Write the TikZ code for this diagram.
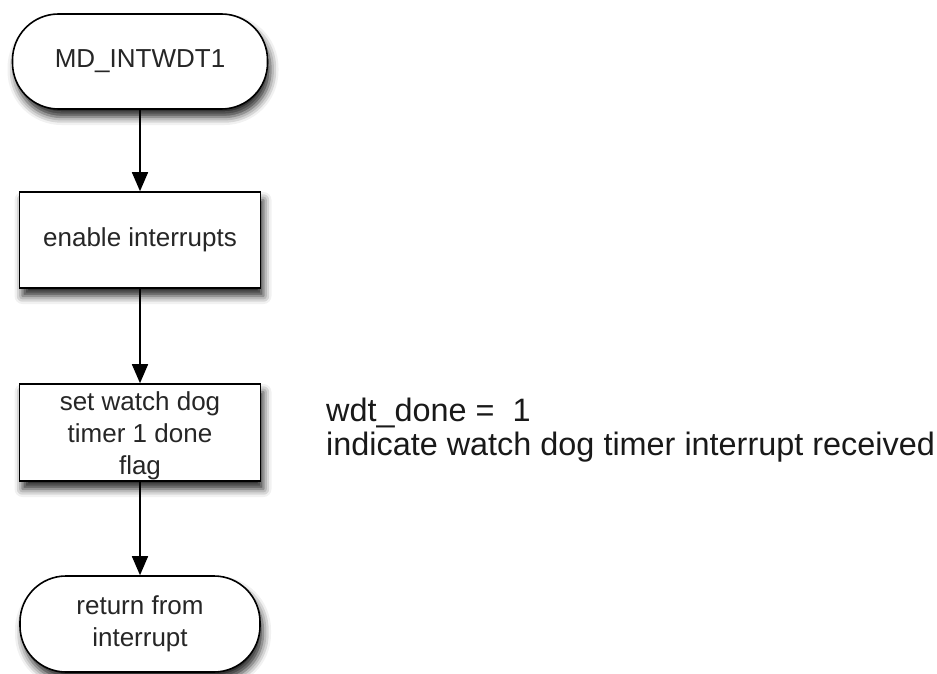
\documentclass[tikz,border=0pt]{standalone}
\usepackage{fontspec}
\setmainfont{Liberation Sans}
\usetikzlibrary{arrows.meta,shadows.blur}
\begin{document}
\begin{tikzpicture}[x=1pt,y=-1pt,
  base/.style={draw=black, line width=1.6pt, fill=white, align=center,
    text=black!85, font=\fontsize{26}{32}\selectfont, inner sep=0pt,
    blur shadow={shadow xshift=3pt, shadow yshift=-8pt, shadow blur radius=8pt, shadow opacity=85}},
  terminal/.style={base, rounded corners=46pt},
  process/.style={base, rectangle},
  flow/.style={line width=1.6pt, -{Triangle[length=19pt,width=16pt]}},
  note/.style={align=left, anchor=west, inner sep=0pt, text=black!90,
    font=\fontsize{32.4}{34}\selectfont}]
  \useasboundingbox (0,0) rectangle (937,674);

  \node[terminal, minimum width=255pt, minimum height=95pt] (start) at (140,61.5) {MD\_INTWDT1};
  \node[process, minimum width=241pt, minimum height=96pt] (enable) at (140,240) {enable interrupts};
  \node[process, minimum width=241pt, minimum height=97pt] (flag) at (140,432.5) {};
  \node[font=\fontsize{26}{32}\selectfont, text=black!85, align=center, inner sep=0pt]
    (flagtext) at (140,436) {set watch dog\\timer 1 done\\flag};
  \node[terminal, minimum width=240pt, minimum height=96pt] (ret) at (140,624) {return from\\interrupt};

  \node[note] (desc) at (326,430) {wdt\_done =\ \ 1\\indicate watch dog timer interrupt received};

  \draw[flow] (start) -- (enable);
  \draw[flow] (enable) -- (flag);
  \draw[flow] (flag) -- (ret);
\end{tikzpicture}
\end{document}
